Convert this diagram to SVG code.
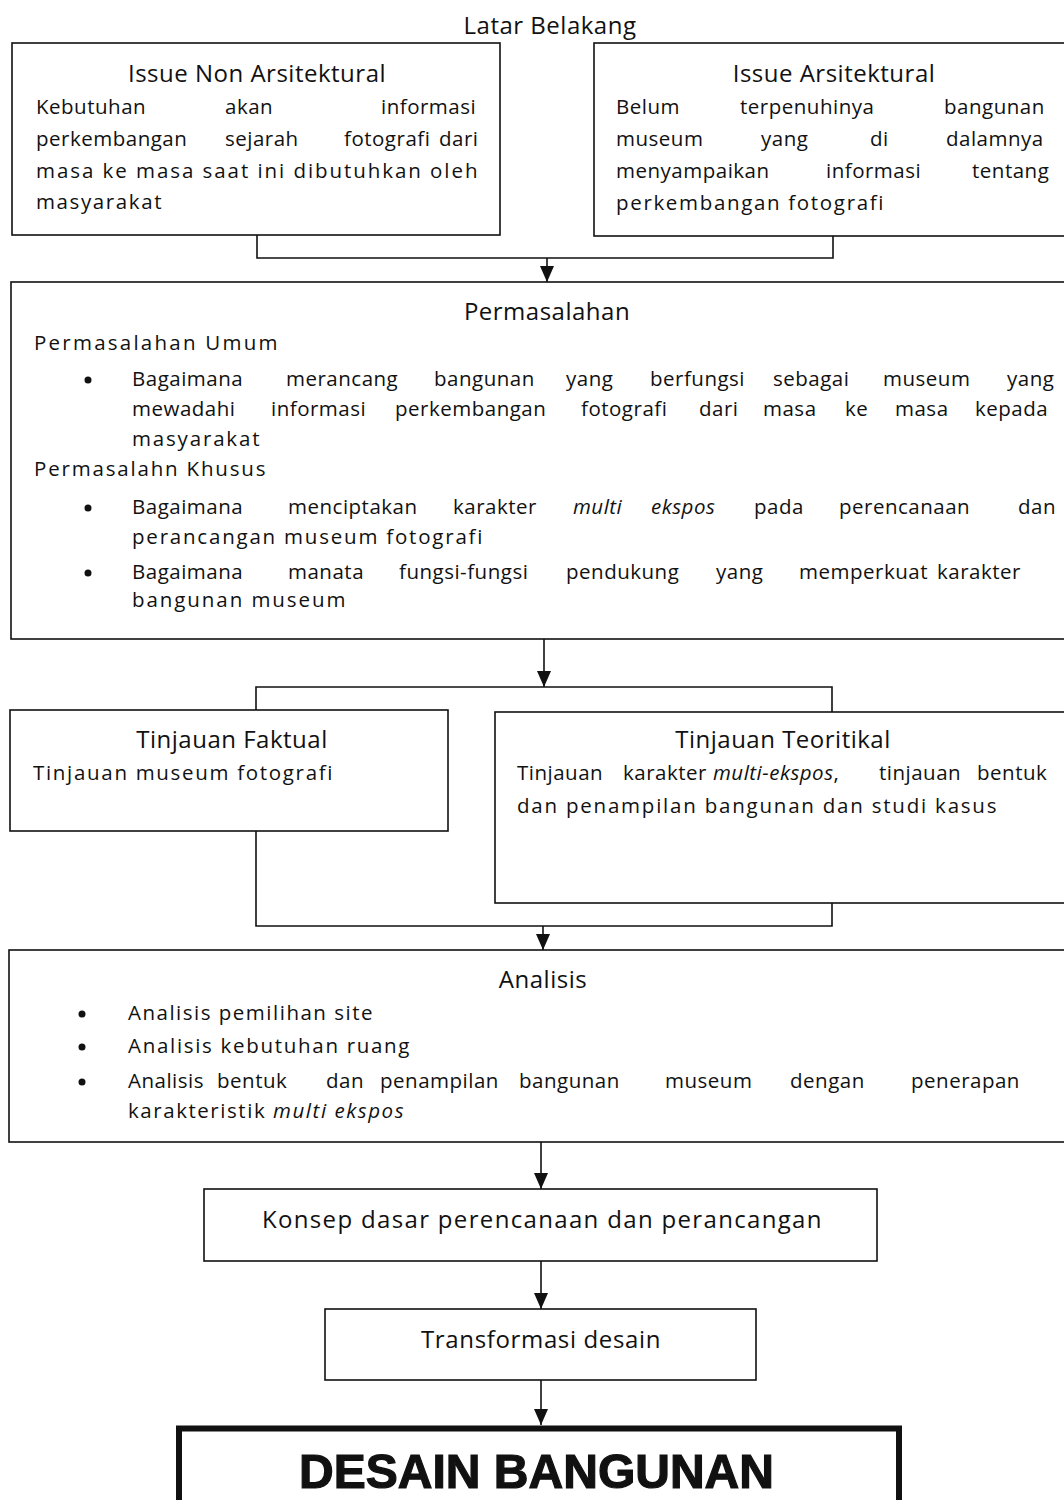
<svg xmlns="http://www.w3.org/2000/svg" width="1064" height="1500" viewBox="0 0 1064 1500">
<style>
  .box { fill: #fff; stroke: #111; stroke-width: 1.6; }
  .thick { fill: #fff; stroke: #111; stroke-width: 6; }
  .con { fill: none; stroke: #111; stroke-width: 1.6; }
  .t { font-family: "Open Sans", "Liberation Sans", sans-serif; font-size: 20.5px; letter-spacing: 0.5px; fill: #111; }
  .h { font-family: "Open Sans", "Liberation Sans", sans-serif; font-size: 24px; letter-spacing: 0.5px; fill: #111; text-anchor: middle; }
  .i { font-style: italic; }
  .big { font-family: "Liberation Sans", "DejaVu Sans", sans-serif; font-size: 49px; font-weight: 900; fill: #111; stroke: #111; stroke-width: 1.2; }
  .dot { fill: #111; }
</style>
<defs>
  <marker id="ah" markerUnits="userSpaceOnUse" markerWidth="16" markerHeight="14" refX="16" refY="7" orient="auto">
    <path d="M0,0 L16,7 L0,14 Z" fill="#111"/>
  </marker>
</defs>
<rect width="1064" height="1500" fill="#fff"/>

<text id="latar" class="h" x="550" y="34">Latar Belakang</text>

<g id="connectors">
  <path class="con" d="M257,235 V258 H833 V236"/>
  <path class="con" d="M547,258 V282" marker-end="url(#ah)"/>
  <path class="con" d="M544,639 V687" marker-end="url(#ah)"/>
  <path class="con" d="M256,710 V687 H832 V712"/>
  <path class="con" d="M256,831 V926 H832 V903"/>
  <path class="con" d="M543,926 V950" marker-end="url(#ah)"/>
  <path class="con" d="M541,1142 V1189" marker-end="url(#ah)"/>
  <path class="con" d="M541,1261 V1309" marker-end="url(#ah)"/>
  <path class="con" d="M541,1380 V1425" marker-end="url(#ah)"/>
</g>

<g id="issue-non">
  <rect class="box" x="12" y="43" width="488" height="192"/>
  <text class="h" x="257" y="82">Issue Non Arsitektural</text>
  <text class="t" y="114"><tspan x="36">Kebutuhan</tspan><tspan x="225">akan</tspan><tspan x="381">informasi</tspan></text>
  <text class="t" y="146"><tspan x="36">perkembangan</tspan><tspan x="225">sejarah</tspan><tspan x="344">fotografi</tspan><tspan x="439">dari</tspan></text>
  <text class="t" x="36" y="178" textLength="442" lengthAdjust="spacing">masa ke masa saat ini dibutuhkan oleh</text>
  <text class="t" x="36" y="209" textLength="126" lengthAdjust="spacing">masyarakat</text>
</g>

<g id="issue-ars">
  <rect class="box" x="594" y="43" width="480" height="193"/>
  <text class="h" x="834" y="82">Issue Arsitektural</text>
  <text class="t" y="114"><tspan x="616">Belum</tspan><tspan x="740">terpenuhinya</tspan><tspan x="944">bangunan</tspan></text>
  <text class="t" y="146"><tspan x="616">museum</tspan><tspan x="761">yang</tspan><tspan x="870">di</tspan><tspan x="946">dalamnya</tspan></text>
  <text class="t" y="178"><tspan x="616">menyampaikan</tspan><tspan x="826">informasi</tspan><tspan x="972">tentang</tspan></text>
  <text class="t" x="616" y="210" textLength="268" lengthAdjust="spacing">perkembangan fotografi</text>
</g>

<g id="permasalahan">
  <rect class="box" x="11" y="282" width="1062" height="357"/>
  <text class="h" x="547" y="320">Permasalahan</text>
  <text class="t" x="34" y="350" textLength="244" lengthAdjust="spacing">Permasalahan Umum</text>
  <circle class="dot" cx="88" cy="380" r="3.5"/>
  <text class="t" y="386"><tspan x="132">Bagaimana</tspan><tspan x="286">merancang</tspan><tspan x="434">bangunan</tspan><tspan x="566">yang</tspan><tspan x="650">berfungsi</tspan><tspan x="773">sebagai</tspan><tspan x="883">museum</tspan><tspan x="1007">yang</tspan></text>
  <text class="t" y="416"><tspan x="132">mewadahi</tspan><tspan x="271">informasi</tspan><tspan x="395">perkembangan</tspan><tspan x="581">fotografi</tspan><tspan x="699">dari</tspan><tspan x="763">masa</tspan><tspan x="845">ke</tspan><tspan x="895">masa</tspan><tspan x="975">kepada</tspan></text>
  <text class="t" x="132" y="446" textLength="128" lengthAdjust="spacing">masyarakat</text>
  <text class="t" x="34" y="476" textLength="232" lengthAdjust="spacing">Permasalahn Khusus</text>
  <circle class="dot" cx="88" cy="508" r="3.5"/>
  <text class="t" y="514"><tspan x="132">Bagaimana</tspan><tspan x="288">menciptakan</tspan><tspan x="453">karakter</tspan><tspan x="573" class="i">multi</tspan><tspan x="651" class="i">ekspos</tspan><tspan x="754">pada</tspan><tspan x="839">perencanaan</tspan><tspan x="1018">dan</tspan></text>
  <text class="t" x="132" y="544" textLength="351" lengthAdjust="spacing">perancangan museum fotografi</text>
  <circle class="dot" cx="88" cy="573" r="3.5"/>
  <text class="t" y="579"><tspan x="132">Bagaimana</tspan><tspan x="288">manata</tspan><tspan x="399">fungsi-fungsi</tspan><tspan x="566">pendukung</tspan><tspan x="716">yang</tspan><tspan x="799">memperkuat</tspan><tspan x="937">karakter</tspan></text>
  <text class="t" x="132" y="607" textLength="214" lengthAdjust="spacing">bangunan museum</text>
</g>

<g id="tinjauan-faktual">
  <rect class="box" x="10" y="710" width="438" height="121"/>
  <text class="h" x="232" y="748">Tinjauan Faktual</text>
  <text class="t" x="33" y="780" textLength="300" lengthAdjust="spacing">Tinjauan museum fotografi</text>
</g>

<g id="tinjauan-teoritikal">
  <rect class="box" x="495" y="712" width="580" height="191"/>
  <text class="h" x="783" y="748">Tinjauan Teoritikal</text>
  <text class="t" y="780"><tspan x="517">Tinjauan</tspan><tspan x="623">karakter</tspan><tspan x="713" class="i">multi-ekspos</tspan><tspan>,</tspan><tspan x="879">tinjauan</tspan><tspan x="977">bentuk</tspan></text>
  <text class="t" x="517" y="813" textLength="480" lengthAdjust="spacing">dan penampilan bangunan dan studi kasus</text>
</g>

<g id="analisis">
  <rect class="box" x="9" y="950" width="1066" height="192"/>
  <text class="h" x="543" y="988">Analisis</text>
  <circle class="dot" cx="82" cy="1014" r="3.5"/>
  <text class="t" x="128" y="1020" textLength="245" lengthAdjust="spacing">Analisis pemilihan site</text>
  <circle class="dot" cx="82" cy="1047" r="3.5"/>
  <text class="t" x="128" y="1053" textLength="282" lengthAdjust="spacing">Analisis kebutuhan ruang</text>
  <circle class="dot" cx="82" cy="1082" r="3.5"/>
  <text class="t" y="1088"><tspan x="128">Analisis</tspan><tspan x="217">bentuk</tspan><tspan x="326">dan</tspan><tspan x="380">penampilan</tspan><tspan x="519">bangunan</tspan><tspan x="665">museum</tspan><tspan x="790">dengan</tspan><tspan x="911">penerapan</tspan></text>
  <text class="t" x="128" y="1118" textLength="276" lengthAdjust="spacing">karakteristik <tspan class="i">multi ekspos</tspan></text>
</g>

<g id="konsep">
  <rect class="box" x="204" y="1189" width="673" height="72"/>
  <text class="h" x="542" y="1228" textLength="560" lengthAdjust="spacing">Konsep dasar perencanaan dan perancangan</text>
</g>

<g id="transformasi">
  <rect class="box" x="325" y="1309" width="431" height="71"/>
  <text class="h" x="541" y="1348" textLength="240" lengthAdjust="spacing">Transformasi desain</text>
</g>

<g id="desain">
  <rect class="thick" x="179" y="1428.5" width="720" height="90"/>
  <text class="big" x="299" y="1488" textLength="475" lengthAdjust="spacingAndGlyphs">DESAIN BANGUNAN</text>
</g>
</svg>
